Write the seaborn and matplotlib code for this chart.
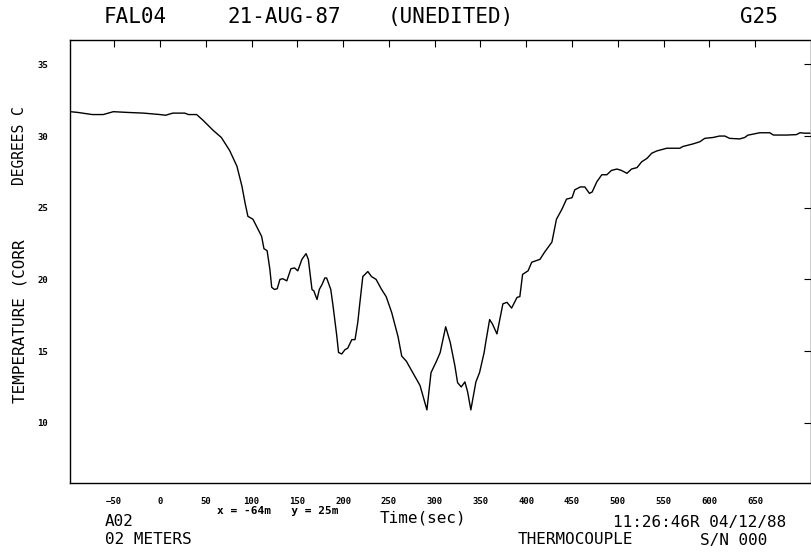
import pandas as pd
import matplotlib
matplotlib.use("Agg")
import matplotlib.pyplot as plt
import seaborn as sns

# thermocouple trace: time (s) and corrected temperature (deg C)
time_sec = [-98, -90, -74, -62, -51, -36, -18, 0, 6, 14, 27, 31, 40, 47, 58, 67,
            76, 84, 89.5, 93, 96, 101.5, 107, 111, 113.5, 117, 120, 122, 125, 128,
            131, 134, 138.5, 143, 147, 150.5, 155, 159.5, 162, 166, 168, 171.5, 174,
            177, 180, 182, 186.5, 189, 193, 195, 198.5, 202, 205, 209.5, 213, 216,
            218, 221.5, 227, 231, 236, 242, 247, 253, 260, 264, 269, 276, 284, 291.5,
            296, 302, 306, 312, 317, 322, 325, 329, 333, 336, 339.5, 345, 349, 354,
            356, 360, 363, 368, 374.5, 379, 384, 390, 393, 396, 402, 406, 415, 420,
            428, 433, 439, 444, 450, 453, 459, 464, 469, 472, 477, 482.5, 488, 493,
            499, 504, 510, 515, 521, 526, 532, 537, 542.5, 553.5, 567.7, 571, 582,
            589.5, 595, 604, 611, 617, 622, 633, 638.6, 642, 655, 666, 670, 684.5,
            695, 699, 704, 710]
temp_c = [31.7, 31.65, 31.5, 31.5, 31.7, 31.65, 31.6, 31.5, 31.45, 31.6, 31.6, 31.5,
          31.5, 31.1, 30.4, 29.9, 29.0, 27.9, 26.5, 25.3, 24.4, 24.2, 23.5, 23.0,
          22.15, 22.0, 20.7, 19.45, 19.3, 19.35, 20.0, 20.05, 19.9, 20.75, 20.8,
          20.6, 21.4, 21.8, 21.4, 19.3, 19.2, 18.6, 19.3, 19.65, 20.1, 20.1, 19.3,
          18.15, 16.1, 14.9, 14.8, 15.1, 15.2, 15.8, 15.8, 17.0, 18.2, 20.2, 20.55,
          20.2, 20.0, 19.3, 18.8, 17.7, 16.0, 14.65, 14.3, 13.5, 12.6, 10.9, 13.5,
          14.3, 14.9, 16.7, 15.6, 14.0, 12.8, 12.5, 12.85, 12.15, 10.9, 12.85, 13.5,
          14.9, 15.7, 17.2, 16.9, 16.2, 18.3, 18.4, 18.0, 18.75, 18.8, 20.35, 20.6,
          21.2, 21.4, 21.9, 22.6, 24.2, 24.9, 25.6, 25.7, 26.25, 26.45, 26.45, 26.0,
          26.1, 26.8, 27.3, 27.3, 27.6, 27.7, 27.6, 27.4, 27.7, 27.8, 28.2, 28.45,
          28.8, 28.96, 29.15, 29.15, 29.27, 29.45, 29.6, 29.84, 29.9, 30.0, 30.0,
          29.84, 29.8, 29.9, 30.06, 30.23, 30.23, 30.07, 30.07, 30.1, 30.23, 30.2, 30.2]

x_ticks = [-50, 0, 50, 100, 150, 200, 250, 300, 350, 400, 450, 500, 550, 600, 650]
y_ticks = [10, 15, 20, 25, 30, 35]

df = pd.DataFrame({"time": time_sec, "temp": temp_c})

sns.set_style("white")
plt.rcParams["font.family"] = ["DejaVu Sans Mono", "DejaVu Sans"]

W, H = 812, 554
fig = plt.figure(figsize=(W / 100, H / 100), dpi=100)
ax = fig.add_axes([70 / W, 1 - 483 / H, 741 / W, 443 / H])

sns.lineplot(data=df, x="time", y="temp", color="black", linewidth=1.0, ax=ax)

ax.set_xlim(-98.3, 711)
ax.set_ylim(5.8, 36.7)
ax.set_xticks(x_ticks)
ax.set_yticks(y_ticks)
ax.set_xlabel("")
ax.set_ylabel("")
ax.tick_params(direction="in", length=5, width=0.8, color="black",
               top=True, right=True, labelsize=6.5, labelcolor="black")
ax.tick_params(axis="x", pad=10)
ax.tick_params(axis="y", pad=16)
for lbl in ax.get_xticklabels() + ax.get_yticklabels():
    lbl.set_fontweight("bold")
for sp in ax.spines.values():
    sp.set_color("black")
    sp.set_linewidth(1.0)


def put(x, y, s, size, **kw):
    # place text by pixel position of the reference image
    fig.text(x / W, 1 - y / H, s, fontsize=size, color="black", va="center", **kw)


# header
put(104, 17, "FAL04", 15)
put(228, 17, "21-AUG-87", 15)
put(388, 17, "(UNEDITED)", 15)
put(740, 17, "G25", 15)

# y axis label in two pieces
put(20, 321, "TEMPERATURE (CORR", 11.5, rotation=90, ha="center")
put(20, 146, "DEGREES C", 10.5, rotation=90, ha="center")

# footer
put(105, 522, "A02", 11.5)
put(105, 540, "02 METERS", 11.5)
put(217, 511, "x = -64m   y = 25m", 8, fontweight="bold")
put(380, 518, "Time(sec)", 11.5)
put(613, 522, "11:26:46R 04/12/88", 11.5)
put(518, 540, "THERMOCOUPLE", 11.5)
put(700, 540, "S/N 000", 11.5)

fig.savefig("out.png", dpi=100)
